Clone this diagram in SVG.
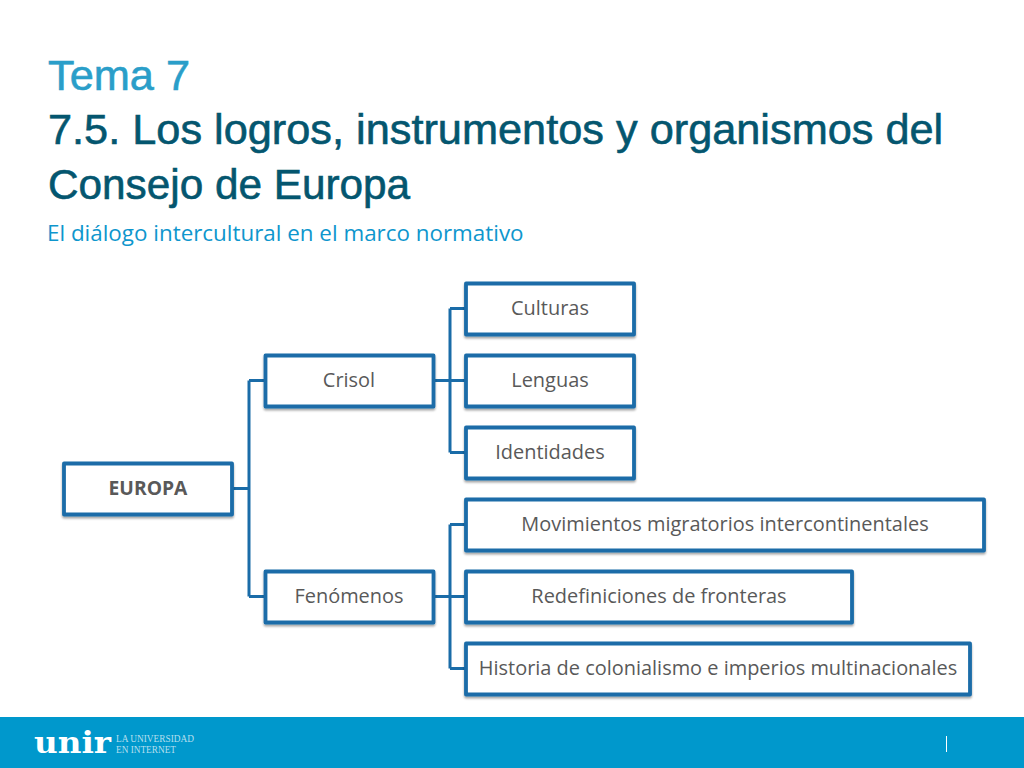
<svg xmlns="http://www.w3.org/2000/svg" width="1024" height="768" viewBox="0 0 1024 768">
<defs>
<filter id="sh" x="-5%" y="-15%" width="110%" height="135%"><feDropShadow dx="0" dy="2" stdDeviation="1.200" flood-color="#000" flood-opacity="0.35"/></filter>
</defs>
<style>
.t{font-family:"Liberation Sans",Arial,sans-serif;font-size:43.300px;stroke-width:.6px}
.box{fill:#fff;stroke:#1a6ca8;stroke-width:3.800;stroke-linejoin:round;filter:url(#sh)}
.lb{font-family:"Open Sans","Noto Sans",sans-serif;font-size:19.950px;fill:#595959;text-anchor:middle}
.con{fill:none;stroke:#1a6ca8;stroke-width:3}
</style>
<rect width="1024" height="768" fill="#fff"/>
<g id="titles">
<text class="t" x="48" y="89.500" fill="#2a9ec9" stroke="#2a9ec9" font-size="43.800">Tema 7</text>
<text class="t" x="48" y="144" fill="#04566f" stroke="#04566f">7.5. Los logros, instrumentos y organismos del</text>
<text class="t" x="48" y="199" fill="#04566f" stroke="#04566f" style="font-size:42.300px">Consejo de Europa</text>
<text x="47" y="240.500" font-family="'Open Sans','Noto Sans',sans-serif" font-size="22.400" fill="#0e96cd">El diálogo intercultural en el marco normativo</text>
</g>
<g id="connectors">
<path class="con" d="M233 488.500H249M249 380.500V596.500M249 380.500H265M249 596.500H265"/>
<path class="con" d="M434 380.500H466M450 308.500V452.500M450 308.500H466M450 452.500H466"/>
<path class="con" d="M434 596.500H466M450 524.500V668.500M450 524.500H466M450 668.500H466"/>
</g>
<g id="europa"><rect class="box" x="64" y="463.500" width="168" height="51"/><text class="lb" x="148" y="495" font-weight="700" style="font-size:19.300px">EUROPA</text></g>
<g id="crisol"><rect class="box" x="265.500" y="355.500" width="168" height="51"/><text class="lb" x="349" y="387">Crisol</text></g>
<g id="fenomenos"><rect class="box" x="265.500" y="571.500" width="168" height="51"/><text class="lb" x="349" y="603">Fenómenos</text></g>
<g id="culturas"><rect class="box" x="466" y="283.500" width="168" height="51"/><text class="lb" x="550" y="315">Culturas</text></g>
<g id="lenguas"><rect class="box" x="466" y="355.500" width="168" height="51"/><text class="lb" x="550" y="387">Lenguas</text></g>
<g id="identidades"><rect class="box" x="466" y="427.500" width="168" height="51"/><text class="lb" x="550" y="459">Identidades</text></g>
<g id="movimientos"><rect class="box" x="466" y="499.500" width="518" height="51"/><text class="lb" x="725" y="531">Movimientos migratorios intercontinentales</text></g>
<g id="redefiniciones"><rect class="box" x="466" y="571.500" width="386" height="51"/><text class="lb" x="659" y="603">Redefiniciones de fronteras</text></g>
<g id="historia"><rect class="box" x="466" y="643.500" width="504" height="51"/><text class="lb" x="718" y="675">Historia de colonialismo e imperios multinacionales</text></g>
<g id="footer">
<rect x="0" y="717" width="1024" height="51" fill="#0098cc"/>
<text x="34" y="753" font-family="'DejaVu Serif',serif" font-weight="700" font-size="30" fill="#fff" textLength="77" lengthAdjust="spacingAndGlyphs">unir</text>
<text x="116" y="742" font-family="'Liberation Serif',serif" font-size="9.500" fill="#b5dfee" textLength="78" lengthAdjust="spacingAndGlyphs">LA UNIVERSIDAD</text>
<text x="116" y="753" font-family="'Liberation Serif',serif" font-size="9.500" fill="#b5dfee" textLength="60" lengthAdjust="spacingAndGlyphs">EN INTERNET</text>
<line x1="946.500" y1="736" x2="946.500" y2="752" stroke="#fff" stroke-width="1"/>
</g>
</svg>
